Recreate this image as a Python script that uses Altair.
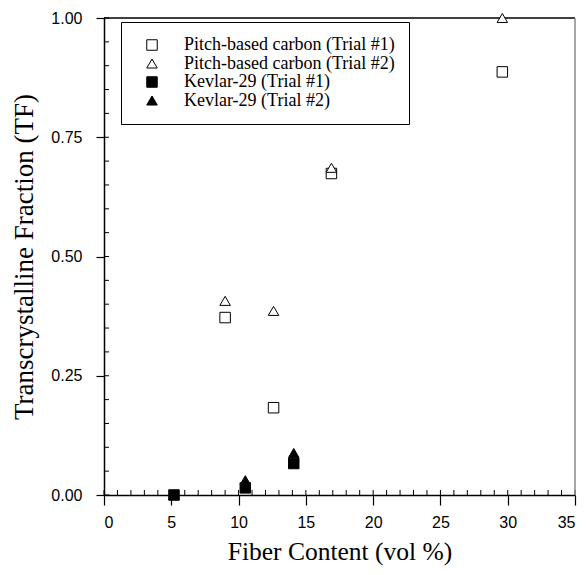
import altair as alt
import pandas as pd

series_names = [
    "Pitch-based carbon (Trial #1)",
    "Pitch-based carbon (Trial #2)",
    "Kevlar-29 (Trial #1)",
    "Kevlar-29 (Trial #2)",
]
pitch_x = [9.0, 12.6, 16.9, 29.6]
pitch_t1 = [0.372, 0.183, 0.674, 0.887]
pitch_t2 = [0.407, 0.386, 0.686, 1.00]
kevlar_x = [5.2, 10.5, 14.1]
kevlar_t1 = [0.0, 0.015, 0.066]
kevlar_t2 = [0.0, 0.031, 0.088]

x_ticks = [0, 5, 10, 15, 20, 25, 30, 35]
y_ticks = [0.0, 0.25, 0.5, 0.75, 1.0]
x_minor = list(range(0, 36))
y_minor = [i * 0.05 for i in range(0, 21)]

rows = []
for x, a, b in zip(pitch_x, pitch_t1, pitch_t2):
    rows.append({"x": x, "y": a, "s": series_names[0]})
    rows.append({"x": x, "y": b, "s": series_names[1]})
for x, a, b in zip(kevlar_x, kevlar_t1, kevlar_t2):
    rows.append({"x": x, "y": b, "s": series_names[3]})
    rows.append({"x": x, "y": a, "s": series_names[2]})
df = pd.DataFrame(rows)

W, H = 471, 477
xscale = alt.Scale(domain=[0, 35], nice=False, zero=False)
yscale = alt.Scale(domain=[0, 1], nice=False, zero=False)

legend = alt.Legend(
    title=None,
    orient="none",
    legendX=17,
    legendY=4,
    strokeColor="black",
    fillColor="white",
    padding=14,
    symbolOffset=8,
    labelFont="Liberation Serif",
    labelFontSize=18,
    labelColor="black",
    labelOffset=23,
    rowPadding=0.5,
    symbolSize=110,
    symbolStrokeWidth=1,
    labelLimit=400,
)

points = alt.Chart(df).mark_point(size=110, strokeWidth=1, opacity=1, filled=False).encode(
    x=alt.X("x:Q", scale=xscale, axis=alt.Axis(
        values=x_ticks, title="Fiber Content (vol %)", format="d",
        tickSize=10, labelPadding=9, titlePadding=9, titleFontSize=25.5,
    )),
    y=alt.Y("y:Q", scale=yscale, axis=alt.Axis(
        values=y_ticks, title="Transcrystalline Fraction (TF)", format=".2f",
        tickSize=8, labelPadding=14, titlePadding=12, titleFontSize=27,
    )),
    shape=alt.Shape("s:N", scale=alt.Scale(domain=series_names,
        range=["square", "triangle-up", "square", "triangle-up"]), legend=legend),
    fill=alt.Fill("s:N", scale=alt.Scale(domain=series_names,
        range=["white", "white", "black", "black"]), legend=legend),
    stroke=alt.Stroke("s:N", scale=alt.Scale(domain=series_names,
        range=["black", "black", "black", "black"]), legend=legend),
)

xm = alt.Chart(pd.DataFrame({"v": x_minor})).mark_rule(color="black", strokeWidth=1).encode(
    x=alt.X("v:Q", scale=xscale), y=alt.value(H), y2=alt.value(H - 5)
)
ym = alt.Chart(pd.DataFrame({"v": y_minor})).mark_rule(color="black", strokeWidth=1).encode(
    y=alt.Y("v:Q", scale=yscale), x=alt.value(0), x2=alt.value(5)
)
top = alt.Chart(pd.DataFrame({"v": [0]})).mark_rule(color="black", strokeWidth=1.5).encode(
    x=alt.value(0), x2=alt.value(W), y=alt.value(0)
)
right = alt.Chart(pd.DataFrame({"v": [0]})).mark_rule(color="#888888", strokeWidth=1.5).encode(
    x=alt.value(W), y=alt.value(0), y2=alt.value(H)
)

chart = alt.layer(xm, ym, top, right, points).properties(
    width=W, height=H,
    autosize=alt.AutoSizeParams(type="none"),
    padding={"left": 96, "top": 10, "right": 4, "bottom": 72},
).configure_view(stroke=None).configure_axis(
    domainColor="black", tickColor="black", grid=False,
    labelFont="Liberation Sans", labelFontSize=16, labelColor="black",
    titleFont="Liberation Serif", titleFontWeight="normal", titleColor="black",
    domainWidth=1.5, tickWidth=1.2,
)

chart.save("out.html", embed_options={"renderer": "svg", "actions": False})
